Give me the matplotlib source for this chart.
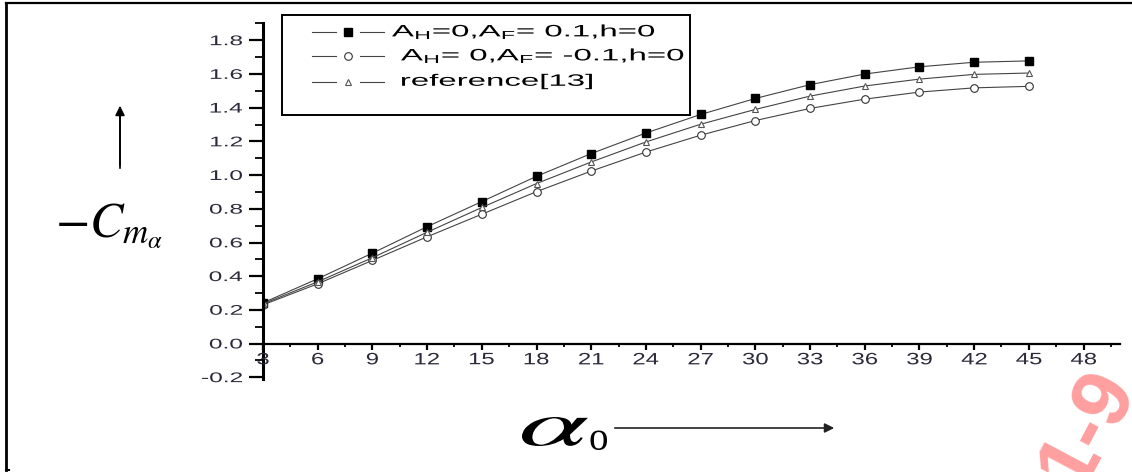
import numpy as np
import matplotlib.pyplot as plt
from matplotlib.lines import Line2D
from matplotlib.patches import Rectangle, PathPatch
from matplotlib.textpath import TextPath
from matplotlib.font_manager import FontProperties
from matplotlib.transforms import Affine2D, IdentityTransform
from matplotlib.ticker import MultipleLocator

plt.rcParams['font.family'] = ['Liberation Sans', 'DejaVu Sans']
plt.rcParams['mathtext.fontset'] = 'custom'
plt.rcParams['mathtext.rm'] = 'Liberation Sans'
plt.rcParams['mathtext.it'] = 'Liberation Sans:italic'

# data
alpha0 = [3, 6, 9, 12, 15, 18, 21, 24, 27, 30, 33, 36, 39, 42, 45]
cm_af_pos = [0.242, 0.385, 0.537, 0.694, 0.843, 0.993, 1.128, 1.250, 1.360,
             1.455, 1.537, 1.600, 1.643, 1.670, 1.678]
cm_af_neg = [0.230, 0.355, 0.494, 0.634, 0.768, 0.902, 1.024, 1.137, 1.237,
             1.324, 1.396, 1.451, 1.493, 1.518, 1.527]
cm_ref = [0.236, 0.367, 0.510, 0.661, 0.808, 0.950, 1.078, 1.197, 1.302,
          1.390, 1.469, 1.529, 1.570, 1.598, 1.606]
labels = [r'A$_\mathrm{H}$=0,A$_\mathrm{F}$= 0.1,h=0',
          r' A$_\mathrm{H}$= 0,A$_\mathrm{F}$= -0.1,h=0',
          ' reference[13]']
xticks = np.arange(3, 49, 3)
yticks = np.round(np.arange(-0.2, 1.81, 0.2), 1)

W, H = 1132, 472
fig = plt.figure(figsize=(W / 100, H / 100), dpi=100)
ax = fig.add_axes([263 / W, 1 - 379 / H, (1120 - 263) / W, (379 - 23.5) / H])

sans = FontProperties(family='Liberation Sans')
serif = FontProperties(family='Liberation Serif', math_fontfamily='stix')


def put_text(s, x, y, size, sx=1.0, ha='left', va='baseline',
             color='black', prop=sans):
    # text drawn as a path so it can be stretched sideways like the original;
    # x, y are output pixels, y counted from the top
    tp = TextPath((0, 0), s, size=size, prop=prop)
    e = tp.get_extents()
    dx = {'left': -e.x0, 'center': -(e.x0 + e.x1) / 2, 'right': -e.x1}[ha]
    dy = {'baseline': 0, 'center': -(e.y0 + e.y1) / 2, 'top': -e.y1}[va]
    tr = Affine2D().translate(dx, dy).scale(sx, 1).translate(x, H - y)
    fig.add_artist(PathPatch(tp, transform=tr + IdentityTransform(),
                             fc=color, ec='none', lw=0))


def put_box(s, x0, y0, x1, y1, prop=serif, color='black'):
    # text path squeezed into a pixel box (top-left origin)
    tp = TextPath((0, 0), s, size=40, prop=prop)
    e = tp.get_extents()
    tr = (Affine2D().translate(-e.x0, -e.y0)
          .scale((x1 - x0) / e.width, (y1 - y0) / e.height)
          .translate(x0, H - y1))
    fig.add_artist(PathPatch(tp, transform=tr + IdentityTransform(),
                             fc=color, ec='none', lw=0))


lc = '#444444'
styles = [dict(marker='s', ms=5.5, mfc='black', mec='black'),
          dict(marker='o', ms=5.5, mfc='white', mec='#333333', mew=0.8),
          dict(marker='^', ms=5, mfc='white', mec='#555555', mew=0.8)]
for ys, st in zip([cm_af_pos, cm_af_neg, cm_ref], styles):
    ax.plot(alpha0, ys, color=lc, lw=0.8, **st)

ax.set_xlim(3, 50)
ax.set_ylim(-0.21, 1.9)
ax.spines['top'].set_visible(False)
ax.spines['right'].set_visible(False)
ax.spines['bottom'].set_position(('data', 0))
ax.spines['left'].set_linewidth(2.2)
ax.spines['bottom'].set_linewidth(1.6)

ax.set_xticks(xticks)
ax.set_yticks(yticks)
ax.xaxis.set_minor_locator(MultipleLocator(1.5))
ax.yaxis.set_minor_locator(MultipleLocator(0.1))
ax.tick_params(axis='y', which='major', direction='out', length=10, width=1.6,
               labelleft=False)
ax.tick_params(axis='y', which='minor', direction='out', length=5.5, width=1.3)
ax.tick_params(axis='x', which='major', direction='out', length=4.5, width=1.6,
               labelbottom=False)
ax.tick_params(axis='x', which='minor', direction='out', length=2.5, width=1.3)

# stretched tick labels
tcol = '#2a2a3a'
for v in yticks:
    px, py = ax.transData.transform((3, v))
    put_text('%.1f' % v if v != 0 else '0.0', px - 21, H - py, 14,
             sx=1.75, ha='right', va='center', color=tcol)
for v in xticks:
    px, py = ax.transData.transform((v, 0))
    put_text(str(v), px, H - py + 15, 16.5, sx=1.45, ha='center',
             va='center', color=tcol)

# legend, drawn by hand as in the original
fig.patches.append(Rectangle((282 / W, 1 - 115 / H), (690 - 282) / W, 100 / H,
                             transform=fig.transFigure, fill=False,
                             ec='black', lw=1.4))
rows_y = [31.7, 55.7, 81.5]
text_x = [392, 401, 402]
for st, lab, ry, tx in zip(styles, labels, rows_y, text_x):
    yy = 1 - ry / H
    for a, b in [(312, 336), (360, 384)]:
        fig.add_artist(Line2D([a / W, b / W], [yy, yy], color=lc, lw=0.8))
    fig.add_artist(Line2D([348 / W], [yy], ls='none', **st))
    put_text(lab, tx, ry, 16.5, sx=2.0, ha='left', va='center')

# axis titles with arrows
fig.text(55 / W, 1 - 237 / H, r'$-C_{m_\alpha}$', math_fontfamily='stix',
         fontsize=36, ha='left', va='baseline')
put_box(r'$\alpha$', 522, 417, 588, 446)
fig.text(588 / W, 1 - 450 / H, 'o', family='Liberation Serif',
         fontsize=28, ha='left', va='baseline')
fig.add_artist(Line2D([120 / W, 120 / W], [1 - 168 / H, 1 - 110 / H],
                      color='black', lw=1.2))
ax.annotate('', xy=(120 / W, 1 - 103 / H), xytext=(120 / W, 1 - 168 / H),
            xycoords='figure fraction', textcoords='figure fraction',
            arrowprops=dict(arrowstyle='-|>', color='black', lw=1.2,
                            mutation_scale=14))
ax.annotate('', xy=(837 / W, 1 - 428 / H), xytext=(612 / W, 1 - 428 / H),
            xycoords='figure fraction', textcoords='figure fraction',
            arrowprops=dict(arrowstyle='-|>', color='#222222', lw=1.2,
                            mutation_scale=14))

# outer frame (top and left only)
fig.add_artist(Line2D([6 / W, 1], [1 - 3 / H, 1 - 3 / H], color='black', lw=1.6))
fig.add_artist(Line2D([6 / W, 6 / W], [1 - 3 / H, 1 - 470 / H], color='black', lw=2))
fig.add_artist(Line2D([6 / W, 9 / W], [1 - 469.5 / H, 1 - 469.5 / H],
                      color='black', lw=1.5))

# watermark in the corner
fig.text(1088 / W, 1 - 428 / H, '1-9', color='#ff9f9f', fontsize=60,
         fontweight='bold', rotation=62, ha='center', va='center')

fig.savefig('out.png', dpi=100)
